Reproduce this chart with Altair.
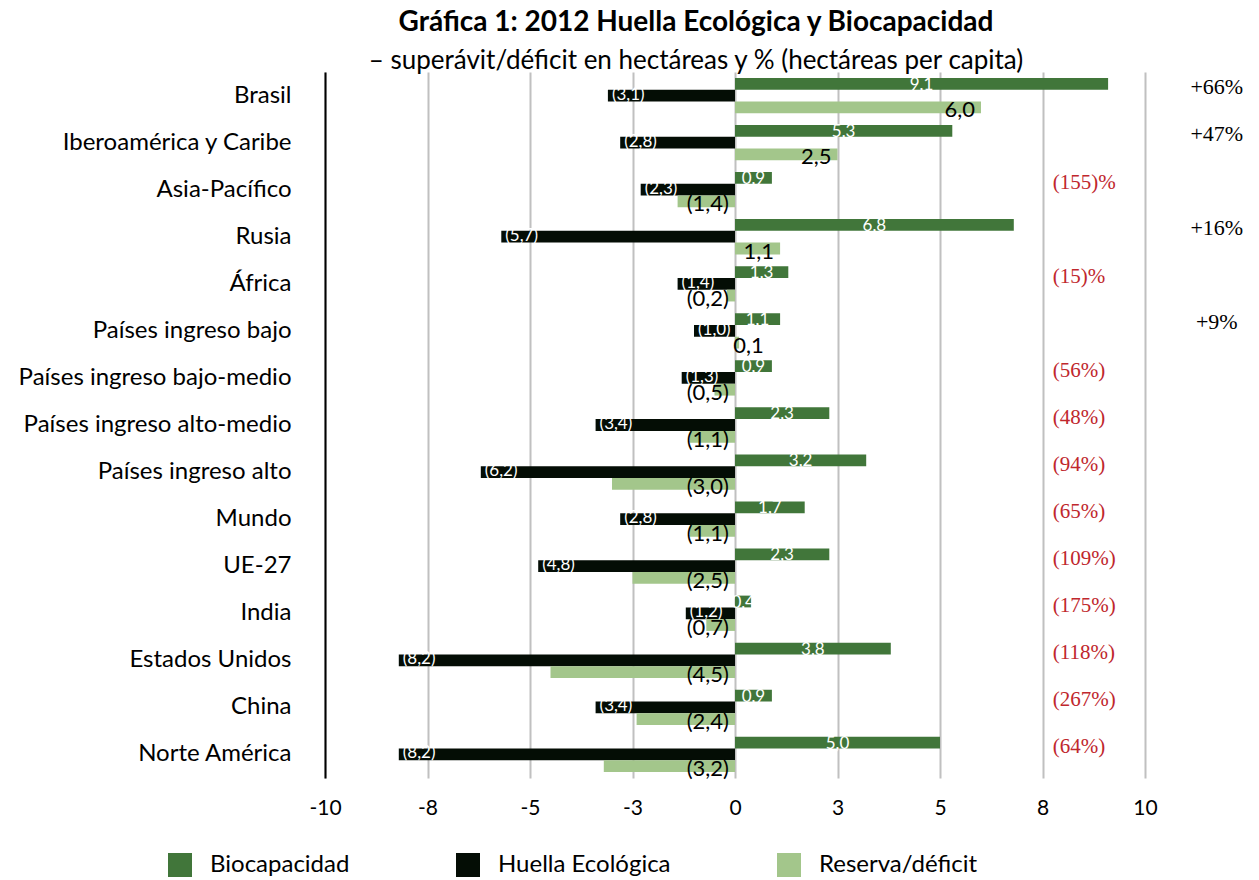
import altair as alt
import pandas as pd

# Regiones (de arriba a abajo) y valores en hectáreas per capita
regiones = [
    "Brasil", "Iberoamérica y Caribe", "Asia-Pacífico", "Rusia", "África",
    "Países ingreso bajo", "Países ingreso bajo-medio", "Países ingreso alto-medio",
    "Países ingreso alto", "Mundo", "UE-27", "India", "Estados Unidos", "China",
    "Norte América",
]
biocapacidad = [9.1, 5.3, 0.9, 6.8, 1.3, 1.1, 0.9, 2.3, 3.2, 1.7, 2.3, 0.4, 3.8, 0.9, 5.0]
huella = [-3.1, -2.8, -2.3, -5.7, -1.4, -1.0, -1.3, -3.4, -6.2, -2.8, -4.8, -1.2, -8.2, -3.4, -8.2]
reserva = [6.0, 2.5, -1.4, 1.1, -0.2, 0.1, -0.5, -1.1, -3.0, -1.1, -2.5, -0.7, -4.5, -2.4, -3.2]
porcentajes = [
    "+66%", "+47%", "(155)%", "+16%", "(15)%", "+9%", "(56%)", "(48%)", "(94%)",
    "(65%)", "(109%)", "(175%)", "(118%)", "(267%)", "(64%)",
]
series = ["Biocapacidad", "Huella Ecológica", "Reserva/déficit"]
colores = ["#41763a", "#040d05", "#a3c68b"]
marcas_x = [-10, -7.5, -5, -2.5, 0, 2.5, 5, 7.5, 10]

FUENTE = "Lato"
SERIF = "Liberation Serif"


def etiqueta(v):
    s = f"{abs(v):.1f}".replace(".", ",")
    return f"({s})" if v < 0 else s


filas = []
for nombre, valores in zip(series, [biocapacidad, huella, reserva]):
    for r, v in zip(regiones, valores):
        filas.append({"region": r, "serie": nombre, "valor": v, "etiqueta": etiqueta(v)})
df = pd.DataFrame(filas)
df_pct = pd.DataFrame({"region": regiones, "texto": porcentajes})

escala_x = alt.Scale(domain=[-10, 10], nice=False, zero=False)
eje_x = alt.Axis(
    values=marcas_x, title=None, domain=False, ticks=False, grid=True,
    gridColor="#c0c0c0", gridWidth=2, labelFont=FUENTE, labelFontSize=21,
    labelColor="black", labelPadding=19, labelFlush=False,
    labelExpr="datum.value < 0 ? '-' + round(-datum.value) : '' + round(datum.value)",
)
eje_y = alt.Axis(
    title=None, ticks=False, domain=True, domainColor="black", domainWidth=2,
    labelFont=FUENTE, labelFontSize=24, labelColor="black", labelPadding=34,
    labelLimit=400, zindex=1,
)
y_enc = alt.Y("region:N", sort=regiones,
              scale=alt.Scale(paddingInner=0.25, paddingOuter=0.125), axis=eje_y)
off_enc = alt.YOffset("serie:N", sort=series, scale=alt.Scale(paddingInner=0))

base = alt.Chart(df).encode(y=y_enc, yOffset=off_enc)

barras = base.mark_bar().encode(
    x=alt.X("valor:Q", scale=escala_x, axis=eje_x),
    color=alt.Color(
        "serie:N", sort=series,
        scale=alt.Scale(domain=series, range=colores),
        legend=alt.Legend(
            title=None, orient="none", direction="horizontal", legendX=-157,
            legendY=781, symbolType="square", symbolSize=576, symbolStrokeWidth=0,
            labelFont=FUENTE, labelFontSize=24, labelColor="black", labelOffset=18,
            labelLimit=300, columnPadding=106, padding=0,
        ),
    ),
)

texto_bio = base.transform_filter(alt.datum.serie == "Biocapacidad").transform_calculate(
    pos="datum.valor / 2"
).mark_text(font=FUENTE, fontSize=17, color="white", align="center", baseline="middle", dy=1).encode(
    x=alt.X("pos:Q"), text="etiqueta:N"
)

texto_huella = base.transform_filter(alt.datum.serie == "Huella Ecológica").mark_text(
    font=FUENTE, fontSize=17, color="white", align="left", baseline="middle", dx=4, dy=-1
).encode(x=alt.X("valor:Q"), text="etiqueta:N")

texto_reserva = base.transform_filter(alt.datum.serie == "Reserva/déficit").transform_calculate(
    pos="datum.valor >= 0 ? max(datum.valor, 0.85) : 0"
).mark_text(font=FUENTE, fontSize=22, color="black", align="right", baseline="middle", dx=-6, dy=3).encode(
    x=alt.X("pos:Q"), text="etiqueta:N"
)

pct = alt.Chart(df_pct).encode(y=alt.Y("region:N", sort=regiones), text="texto:N")
pct_pos = pct.transform_filter("indexof(datum.texto, '+') == 0").transform_calculate(
    pos="11.75"
).mark_text(font=SERIF, fontSize=22, color="black", align="center", baseline="middle", dy=-9).encode(
    x=alt.X("pos:Q")
)
pct_neg = pct.transform_filter("indexof(datum.texto, '+') != 0").transform_calculate(
    pos="7.75"
).mark_text(font=SERIF, fontSize=21, color="#c0272d", align="left", baseline="middle", dy=-7).encode(
    x=alt.X("pos:Q")
)

chart = alt.layer(barras, texto_bio, texto_huella, texto_reserva, pct_pos, pct_neg).properties(
    width=820,
    height=706,
    autosize=alt.AutoSizeParams(type="none"),
    padding={"left": 325, "top": 72, "right": 114, "bottom": 102},
    title=alt.TitleParams(
        text="Gráfica 1: 2012 Huella Ecológica y Biocapacidad",
        subtitle="– superávit/déficit en hectáreas y % (hectáreas per capita)",
        font=FUENTE, fontSize=28, fontWeight="bold", color="black",
        subtitleFont=FUENTE, subtitleFontSize=26, subtitleColor="black",
        anchor="middle", dx=-39, offset=-2, subtitlePadding=11,
    ),
).configure_view(stroke=None)

chart.save("out.html", embed_options={"renderer": "svg", "actions": False})
